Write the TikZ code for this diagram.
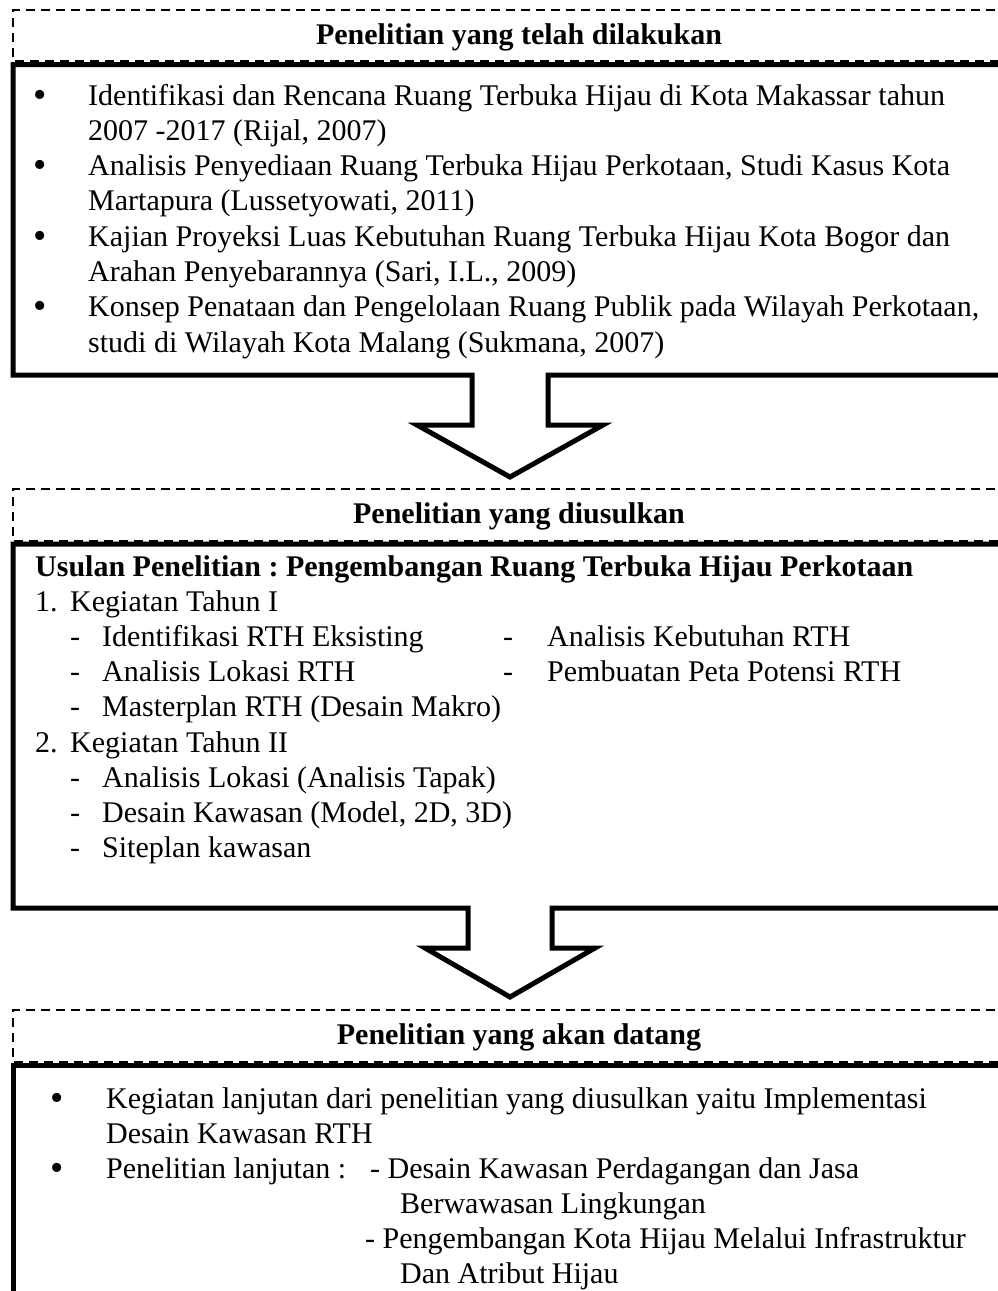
\documentclass[tikz,border=0pt]{standalone}
\usepackage{fontspec}
\setmainfont{Liberation Serif}
\begin{document}
\frenchspacing
\begin{tikzpicture}[x=1pt,y=-1pt,
  thickbox/.style={line width=5pt, line join=miter, miter limit=10},
  dashbox/.style={line width=2pt, dash pattern=on 9pt off 6pt},
  txt/.style={anchor=base west, inner sep=0pt, font=\fontsize{30}{36}\selectfont},
  hdr/.style={anchor=base, inner sep=0pt, font=\fontsize{30}{36}\selectfont\bfseries},
  bul/.style={anchor=base, inner sep=0pt, font=\fontsize{38}{40}\selectfont, yshift=-2pt}]
\clip (0,0) rectangle (998,1291);
\fill[white] (0,0) rectangle (998,1291);

% ---------- Box 1 ----------
\draw[thickbox] (1010,64.5) -- (13,64.5) -- (13,375) -- (472,375) -- (472,425) -- (417,425)
  -- (510,477) -- (603,425) -- (548,425) -- (548,375) -- (1010,375);
\draw[dashbox] (1010,10) -- (13,10) -- (13,61) -- (1010,61);
\node[hdr] (h1) at (519,44) {Penelitian yang telah dilakukan};

\node[bul] (p1) at (40,105) {•};
\node[txt] (t1a) at (88,105) {Identifikasi dan Rencana Ruang Terbuka Hijau di Kota Makassar tahun};
\node[txt] (t1b) at (88,140.3) {2007 -2017 (Rijal, 2007)};
\node[bul] (p2) at (40,175.6) {•};
\node[txt] (t2a) at (88,175.6) {Analisis Penyediaan Ruang Terbuka Hijau Perkotaan, Studi Kasus Kota};
\node[txt] (t2b) at (88,210.9) {Martapura (Lussetyowati, 2011)};
\node[bul] (p3) at (40,246.2) {•};
\node[txt] (t3a) at (88,246.2) {Kajian Proyeksi Luas Kebutuhan Ruang Terbuka Hijau Kota Bogor dan};
\node[txt] (t3b) at (88,281.5) {Arahan Penyebarannya (Sari, I.L., 2009)};
\node[bul] (p4) at (40,316.8) {•};
\node[txt] (t4a) at (88,316.8) {Konsep Penataan dan Pengelolaan Ruang Publik pada Wilayah Perkotaan,};
\node[txt] (t4b) at (88,352.1) {studi di Wilayah Kota Malang (Sukmana, 2007)};

% ---------- Box 2 ----------
\draw[thickbox] (1010,544) -- (13,544) -- (13,908) -- (468,908) -- (468,948) -- (425,948)
  -- (510,997) -- (595,948) -- (552,948) -- (552,908) -- (1010,908);
\draw[dashbox] (1010,489) -- (13,489) -- (13,541) -- (1010,541);
\node[hdr] (h2) at (519,523) {Penelitian yang diusulkan};

\node[txt, font=\fontsize{30}{36}\selectfont\bfseries] (u) at (35,576) {Usulan Penelitian : Pengembangan Ruang Terbuka Hijau Perkotaan};
\node[txt] (n1) at (35,611.2) {1.};
\node[txt] (k1) at (70,611.2) {Kegiatan Tahun I};
\node[txt] (d1) at (70,646.4) {-};
\node[txt] (e1) at (102,646.4) {Identifikasi RTH Eksisting};
\node[txt] (d2) at (503,646.4) {-};
\node[txt] (e2) at (547,646.4) {Analisis Kebutuhan RTH};
\node[txt] (d3) at (70,681.6) {-};
\node[txt] (e3) at (102,681.6) {Analisis Lokasi RTH};
\node[txt] (d4) at (503,681.6) {-};
\node[txt] (e4) at (547,681.6) {Pembuatan Peta Potensi RTH};
\node[txt] (d5) at (70,716.8) {-};
\node[txt] (e5) at (102,716.8) {Masterplan RTH (Desain Makro)};
\node[txt] (n2) at (35,752) {2.};
\node[txt] (k2) at (70,752) {Kegiatan Tahun II};
\node[txt] (d6) at (70,787.2) {-};
\node[txt] (e6) at (102,787.2) {Analisis Lokasi (Analisis Tapak)};
\node[txt] (d7) at (70,822.4) {-};
\node[txt] (e7) at (102,822.4) {Desain Kawasan (Model, 2D, 3D)};
\node[txt] (d8) at (70,857.6) {-};
\node[txt] (e8) at (102,857.6) {Siteplan kawasan};

% ---------- Box 3 ----------
\draw[thickbox] (1010,1065) -- (13,1065) -- (13,1300);
\draw[dashbox] (1010,1010) -- (13,1010) -- (13,1062) -- (1010,1062);
\node[hdr] (h3) at (519,1044) {Penelitian yang akan datang};

\node[bul] (q1) at (57,1108) {•};
\node[txt] (f1a) at (106,1108) {Kegiatan lanjutan dari penelitian yang diusulkan yaitu Implementasi};
\node[txt] (f1b) at (106,1143) {Desain Kawasan RTH};
\node[bul] (q2) at (57,1178) {•};
\node[txt] (f2) at (106,1178) {Penelitian lanjutan :};
\node[txt] (g1a) at (370,1178) {- Desain Kawasan Perdagangan dan Jasa};
\node[txt] (g1b) at (400,1213) {Berwawasan Lingkungan};
\node[txt] (g2a) at (365,1248) {- Pengembangan Kota Hijau Melalui Infrastruktur};
\node[txt] (g2b) at (400,1283) {Dan Atribut Hijau};
\end{tikzpicture}
\end{document}
